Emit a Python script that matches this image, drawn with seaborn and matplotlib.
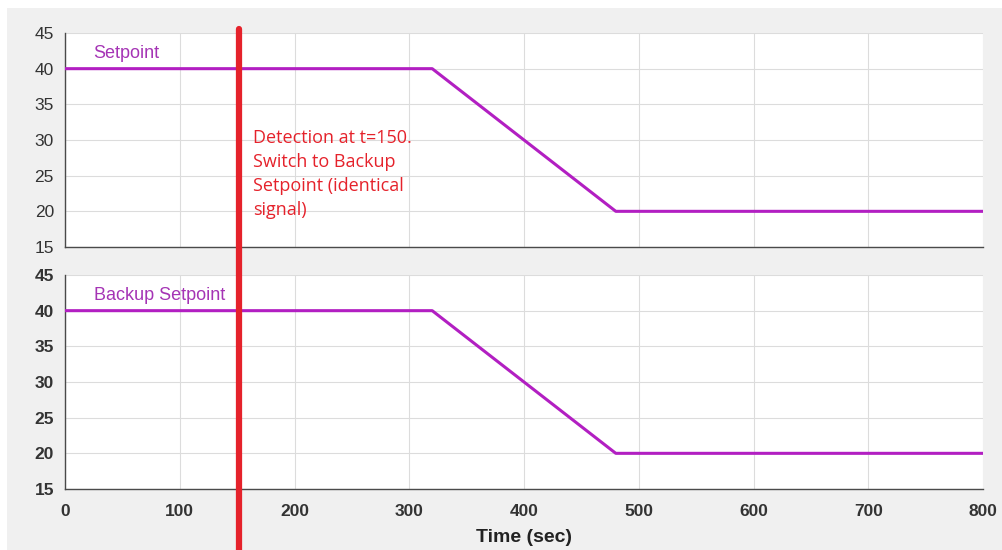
import matplotlib
matplotlib.use("Agg")
import matplotlib.pyplot as plt
import matplotlib.transforms as mtransforms
from matplotlib.patches import Rectangle
from matplotlib.lines import Line2D
import seaborn as sns
import pandas as pd

# ---- data ----
time_sec = [0, 320, 480, 800]
setpoint = [40, 40, 20, 20]
backup_setpoint = [40, 40, 20, 20]
detection_t = 152
x_ticks = [0, 100, 200, 300, 400, 500, 600, 700, 800]
y_ticks = [15, 20, 25, 30, 35, 40, 45]
annotation = "Detection at t=150.\nSwitch to Backup\nSetpoint (identical\nsignal)"

sns.set_theme(style="white")
plt.rcParams['font.family'] = ['Liberation Sans', 'DejaVu Sans']

LINE = "#b21fc2"
LABEL = "#a534b5"
RED = "#e5222b"
GRID = "#dcdcdc"
SPINE = "#4a4a4a"
TICKC = "#333333"

fig = plt.figure(figsize=(10.03, 5.5), dpi=100, facecolor="white")
fig.patches.append(Rectangle((7/1003, 0), 1, 1 - 8/550, transform=fig.transFigure,
                             facecolor="#f0f0f0", edgecolor="none", zorder=-10))

ax1 = fig.add_axes([65/1003, 1 - 247/550, 918/1003, 214/550])
ax2 = fig.add_axes([65/1003, 1 - 489/550, 918/1003, 214/550])

df1 = pd.DataFrame({"t": time_sec, "v": setpoint})
df2 = pd.DataFrame({"t": time_sec, "v": backup_setpoint})
sns.lineplot(data=df1, x="t", y="v", ax=ax1, color=LINE, linewidth=2.2, zorder=3)
sns.lineplot(data=df2, x="t", y="v", ax=ax2, color=LINE, linewidth=2.2, zorder=3)

for ax, bold in ((ax1, False), (ax2, True)):
    ax.set_facecolor("white")
    ax.set_xlim(0, 800)
    ax.set_ylim(15, 45)
    ax.set_xticks(x_ticks)
    ax.set_yticks(y_ticks)
    ax.grid(True, color=GRID, linewidth=0.8)
    ax.set_axisbelow(True)
    for s in ("top", "right"):
        ax.spines[s].set_visible(False)
    for s in ("left", "bottom"):
        ax.spines[s].set_color(SPINE)
        ax.spines[s].set_linewidth(1.0)
    ax.tick_params(axis="both", direction="in", length=5, width=1, color=SPINE,
                   labelsize=12.5, labelcolor=TICKC)
    ax.tick_params(axis="y", pad=8)
    ax.tick_params(axis="x", pad=11)
    ax.set_ylabel("")
    for lab in ax.get_yticklabels() + ax.get_xticklabels():
        lab.set_fontweight("bold" if bold else "normal")

ax1.set_xlabel("")
ax1.tick_params(axis="x", labelbottom=False)
ax2.set_xlabel("Time (sec)", fontsize=14, fontweight="bold", color="#222222", labelpad=7)

ax1.text(25, 41, "Setpoint", color=LABEL, fontsize=13, va="bottom", ha="left")
ax2.text(25, 41, "Backup Setpoint", color=LABEL, fontsize=13, va="bottom", ha="left")

# red detection line spanning the figure
trans = mtransforms.blended_transform_factory(ax1.transData, fig.transFigure)
fig.lines.append(Line2D([detection_t, detection_t], [0, 1 - 29/550], transform=trans,
                        color=RED, linewidth=4.5, solid_capstyle="round", zorder=20))

ax1.text(detection_t + 12, 31.6, annotation, color=RED, fontsize=13,
         family=["Open Sans", "DejaVu Sans"], va="top", ha="left", linespacing=1.45)

fig.savefig("out.png", dpi=100, facecolor=fig.get_facecolor())
